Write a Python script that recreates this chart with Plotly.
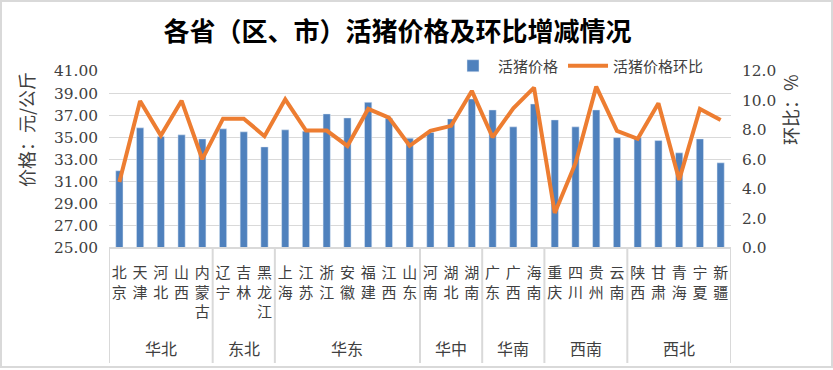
import plotly.graph_objects as go

provinces = ["北京", "天津", "河北", "山西", "内蒙古",
             "辽宁", "吉林", "黑龙江",
             "上海", "江苏", "浙江", "安徽", "福建", "江西", "山东",
             "河南", "湖北", "湖南",
             "广东", "广西", "海南",
             "重庆", "四川", "贵州", "云南",
             "陕西", "甘肃", "青海", "宁夏", "新疆"]
regions = ["华北", "东北", "华东", "华中", "华南", "西南", "西北"]
region_sizes = [5, 3, 7, 3, 3, 4, 5]

price = [31.98, 35.86, 35.08, 35.23, 34.86,
         35.77, 35.50, 34.14,
         35.68, 35.56, 37.12, 36.76, 38.17, 36.73, 34.93,
         35.44, 36.67, 38.47,
         37.48, 35.95, 38.02,
         36.58, 35.95, 37.48, 34.98,
         34.98, 34.71, 33.60, 34.86, 32.70]
mom = [4.47, 9.97, 7.62, 9.99, 6.02,
       8.77, 8.77, 7.58,
       10.08, 7.96, 7.96, 6.92, 9.43, 8.84, 6.93,
       7.94, 8.28, 10.65,
       7.51, 9.47, 10.87,
       2.37, 5.75, 10.94, 7.94,
       7.40, 9.81, 4.62, 9.43, 8.68]

left_ticks = [25, 27, 29, 31, 33, 35, 37, 39, 41]
right_ticks = [0, 2, 4, 6, 8, 10, 12]

W, H = 833, 370
L, R, T, B = 109, 102, 71, 122
pw, ph = W - L - R, H - T - B

def px2x(px):
    return (px - L) / pw

def py2y(py):
    return (H - B - py) / ph

GRID = "#d9d9d9"
BLUE = "#4F81BD"
ORANGE = "#ED7D31"
NUM_FONT = "DejaVu Serif, Noto Sans CJK SC, serif"
CJK_FONT = "Noto Sans CJK SC, sans-serif"

fig = go.Figure()
fig.add_trace(go.Bar(
    x=provinces, y=price, name="活猪价格", marker_color=BLUE,
    width=0.35, yaxis="y"))
fig.add_trace(go.Scatter(
    x=provinces, y=mom, name="活猪价格环比", mode="lines",
    line=dict(color=ORANGE, width=4), yaxis="y2"))

shapes = []
b = 0
bounds = [-0.5]
for s in region_sizes:
    b += s
    bounds.append(b - 0.5)
for xb in bounds:
    shapes.append(dict(type="line", xref="x", yref="paper", x0=xb, x1=xb,
                       y0=0, y1=py2y(363), line=dict(color=GRID, width=2)))
shapes.append(dict(type="line", xref="paper", yref="paper", x0=0, x1=1,
                   y0=0, y1=0, line=dict(color=GRID, width=2)))
shapes.append(dict(type="rect", xref="paper", yref="paper",
                   x0=px2x(1), x1=px2x(832), y0=py2y(367), y1=py2y(1),
                   line=dict(color=GRID, width=2)))

annotations = []
start = 0
for name, s in zip(regions, region_sizes):
    center = start + (s - 1) / 2
    annotations.append(dict(text=name, xref="x", yref="paper", x=center,
                            y=py2y(348), showarrow=False, yanchor="middle",
                            font=dict(family=CJK_FONT, size=16, color="#404040")))
    start += s
annotations.append(dict(text="价格：元/公斤", xref="paper", yref="paper",
                        x=px2x(26), y=py2y(130), textangle=-90, showarrow=False,
                        xanchor="center", yanchor="middle",
                        font=dict(family=CJK_FONT, size=18, color="#404040")))
annotations.append(dict(text="环比：%", xref="paper", yref="paper",
                        x=px2x(790), y=py2y(110), textangle=-90, showarrow=False,
                        xanchor="center", yanchor="middle",
                        font=dict(family=CJK_FONT, size=18, color="#404040")))

fig.update_layout(
    width=W, height=H,
    margin=dict(l=L, r=R, t=T, b=B, pad=0, autoexpand=False),
    paper_bgcolor="white", plot_bgcolor="white",
    title=dict(text="<b>各省（区、市）活猪价格及环比增减情况</b>",
               x=397.5 / W, xanchor="center",
               y=1 - 32 / H, yanchor="middle",
               font=dict(family=CJK_FONT, size=26, color="black")),
    showlegend=True,
    legend=dict(orientation="h", x=px2x(448), y=py2y(66), xanchor="left",
                yanchor="middle", bgcolor="rgba(0,0,0,0)",
                font=dict(family=CJK_FONT, size=15, color="#404040"),
                itemwidth=40, traceorder="normal"),
    xaxis=dict(type="category", categoryorder="array", categoryarray=provinces,
               range=[-0.5, 29.5], tickvals=provinces,
               ticktext=["<br>".join(list(p)) for p in provinces],
               ticks="", showgrid=False, showline=False, zeroline=False,
               automargin=False,
               tickfont=dict(family=CJK_FONT, size=15, color="#404040"),
               tickangle=0, ticklabelstandoff=14),
    yaxis=dict(range=[25, 41], tickvals=left_ticks, tickformat=".2f",
               showgrid=True, gridcolor=GRID, gridwidth=1, zeroline=False,
               showline=False, ticks="", ticklabelstandoff=10, automargin=False,
               tickfont=dict(family=NUM_FONT, size=15.4, color="#404040")),
    yaxis2=dict(range=[0, 12], tickvals=right_ticks, tickformat=".1f",
                overlaying="y", side="right", showgrid=False, zeroline=False,
                showline=False, ticks="", ticklabelstandoff=10, automargin=False,
                tickfont=dict(family=NUM_FONT, size=15.4, color="#404040")),
    shapes=shapes, annotations=annotations,
)

fig.write_html("out.html",
               config={"displayModeBar": False},
               post_script="document.body.style.margin='0';"
                           "document.body.style.padding='0';")
